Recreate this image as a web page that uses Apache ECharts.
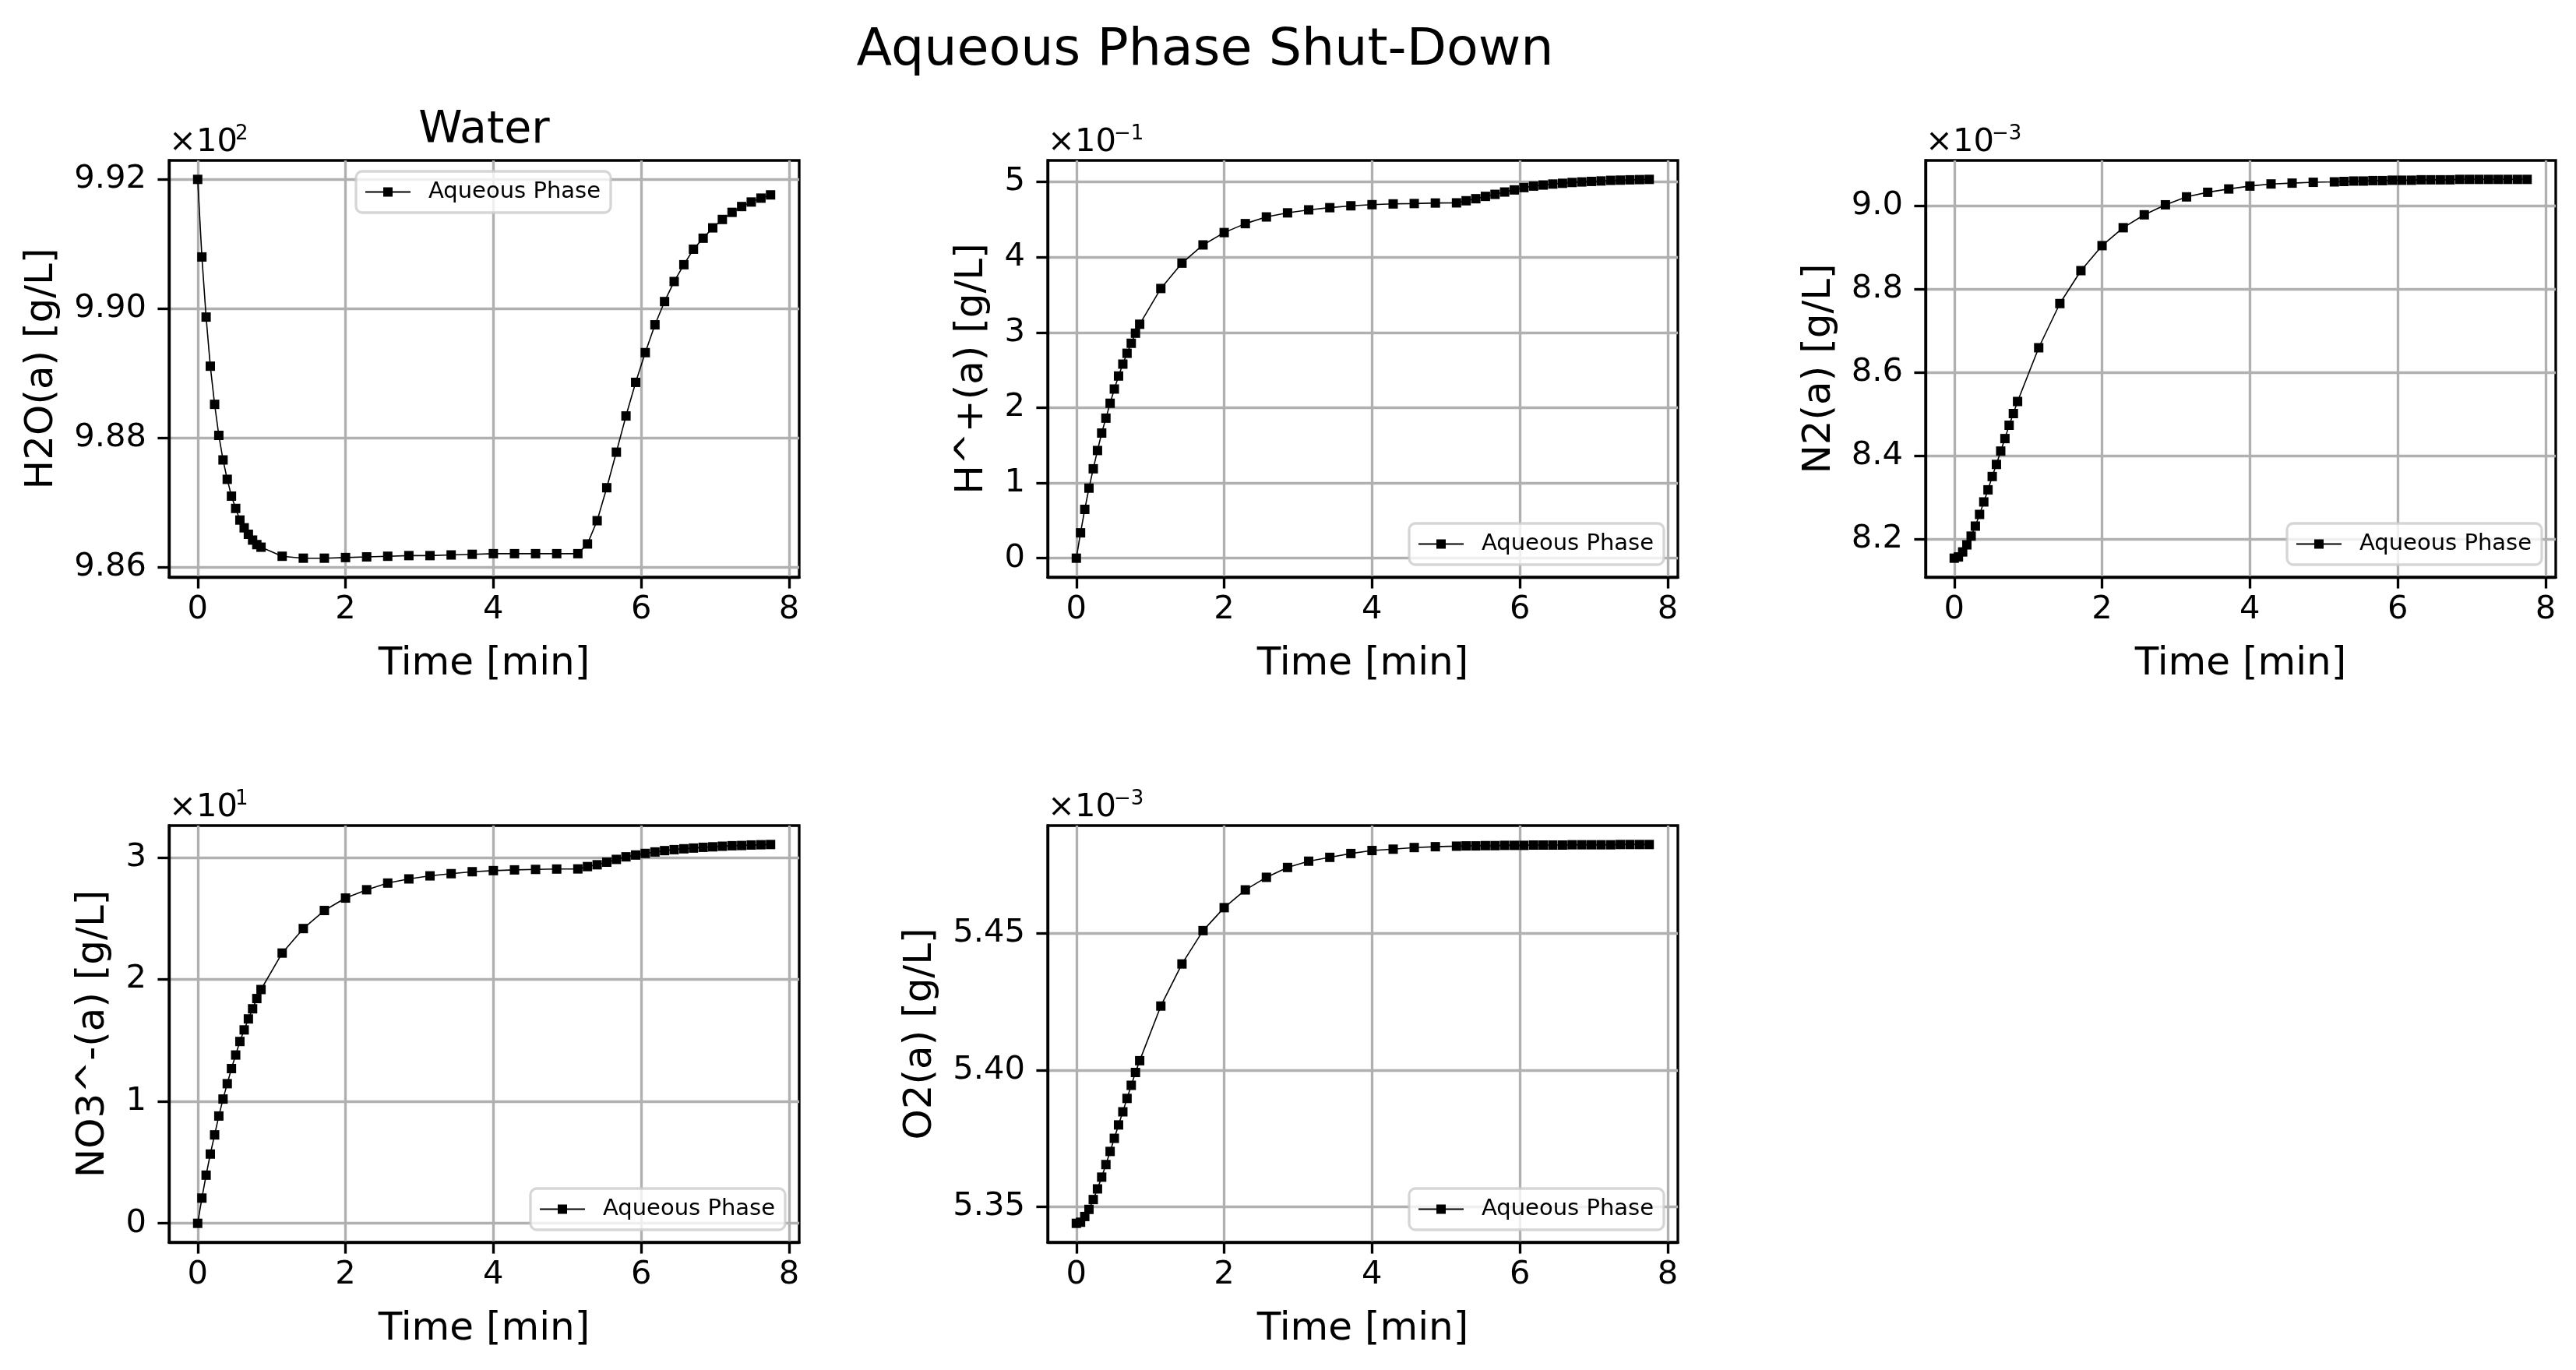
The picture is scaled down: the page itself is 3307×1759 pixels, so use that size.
<!DOCTYPE html>
<html>
<head>
<meta charset="utf-8">
<title>Aqueous Phase Shut-Down</title>
<script src="https://cdn.jsdelivr.net/npm/echarts@6/dist/echarts.min.js"></script>
<style>
  html, body { margin: 0; padding: 0; background: #fff; }
  #chart { width: 3307px; height: 1759px; }
</style>
</head>
<body>
<div id="chart"></div>
<script>
// simulation time [min], shared by all panels
const time = [
  0, 0.057, 0.114, 0.171, 0.229, 0.286, 0.343, 0.4, 0.457, 0.514, 0.571, 0.629, 0.686, 0.743, 0.8, 0.857,
  1.143, 1.429, 1.714, 2.0, 2.286, 2.571, 2.857, 3.143, 3.429, 3.714, 4.0, 4.286, 4.571, 4.857, 5.143,
  5.273, 5.404, 5.534, 5.664, 5.794, 5.925, 6.055, 6.186, 6.316, 6.446, 6.577, 6.707, 6.838, 6.968,
  7.098, 7.229, 7.359, 7.489, 7.62, 7.75
];

// concentrations, in the scaled units of each axis (see the x10^n labels)
// H2O(a), x10^2 g/L
const h2o = [
  9.9200, 9.9080, 9.8987, 9.8911, 9.8852, 9.8804, 9.8766, 9.8736, 9.8710, 9.8691, 9.8673, 9.8661, 9.8651, 9.8642, 9.8635, 9.8631,
  9.8617, 9.8614, 9.8614, 9.8615, 9.8616, 9.8617, 9.8618, 9.8618, 9.8619, 9.8620, 9.8621, 9.8621, 9.8621, 9.8621, 9.8621,
  9.8636, 9.8672, 9.8723, 9.8778, 9.8834, 9.8886, 9.8932, 9.8975, 9.9011, 9.9042, 9.9068, 9.9092, 9.9109, 9.9125,
  9.9138, 9.9149, 9.9158, 9.9165, 9.9171, 9.9176
];
// H^+(a), x10^-1 g/L
const hPlus = [
  0.000, 0.337, 0.649, 0.931, 1.188, 1.431, 1.663, 1.861, 2.059, 2.248, 2.421, 2.579, 2.723, 2.856, 2.990, 3.109,
  3.584, 3.921, 4.163, 4.327, 4.446, 4.535, 4.589, 4.629, 4.658, 4.683, 4.698, 4.708, 4.713, 4.720, 4.722,
  4.750, 4.777, 4.808, 4.835, 4.866, 4.894, 4.925, 4.945, 4.959, 4.972, 4.982, 4.993, 5.000, 5.007,
  5.013, 5.021, 5.024, 5.028, 5.031, 5.034
];
// N2(a), x10^-3 g/L
const n2 = [
  8.155, 8.158, 8.170, 8.187, 8.208, 8.232, 8.260, 8.290, 8.319, 8.351, 8.380, 8.412, 8.442, 8.474, 8.502, 8.531,
  8.660, 8.766, 8.845, 8.905, 8.948, 8.979, 9.003, 9.022, 9.033, 9.041, 9.048, 9.053, 9.055, 9.057, 9.058,
  9.059, 9.060, 9.060, 9.061, 9.061, 9.062, 9.062, 9.062, 9.063, 9.063, 9.063, 9.063, 9.064, 9.064,
  9.064, 9.064, 9.064, 9.064, 9.064, 9.064
];
// NO3^-(a), x10^1 g/L
const no3 = [
  0.000, 0.207, 0.395, 0.568, 0.725, 0.880, 1.019, 1.145, 1.269, 1.380, 1.491, 1.586, 1.676, 1.759, 1.843, 1.917,
  2.216, 2.417, 2.565, 2.667, 2.735, 2.790, 2.824, 2.849, 2.867, 2.883, 2.892, 2.898, 2.902, 2.905, 2.906,
  2.925, 2.940, 2.961, 2.984, 3.005, 3.020, 3.033, 3.045, 3.056, 3.064, 3.071, 3.077, 3.083, 3.087,
  3.092, 3.096, 3.098, 3.102, 3.104, 3.106
];
// O2(a), x10^-3 g/L
const o2 = [
  5.3439, 5.3443, 5.3464, 5.3490, 5.3526, 5.3565, 5.3608, 5.3654, 5.3702, 5.3750, 5.3799, 5.3847, 5.3896, 5.3944, 5.3991, 5.4034,
  5.4234, 5.4388, 5.4510, 5.4594, 5.4659, 5.4705, 5.4741, 5.4764, 5.4778, 5.4792, 5.4803, 5.4808, 5.4814, 5.4817, 5.4819,
  5.4820, 5.4820, 5.4821, 5.4821, 5.4822, 5.4822, 5.4822, 5.4823, 5.4823, 5.4823, 5.4823, 5.4824, 5.4824, 5.4824,
  5.4824, 5.4824, 5.4825, 5.4825, 5.4825, 5.4825
];

// tick labels
const timeTicks = [0, 2, 4, 6, 8];
const h2oTicks = [9.86, 9.88, 9.90, 9.92];
const hPlusTicks = [0, 1, 2, 3, 4, 5];
const n2Ticks = [8.2, 8.4, 8.6, 8.8, 9.0];
const no3Ticks = [0, 1, 2, 3];
const o2Ticks = [5.35, 5.40, 5.45];

const seriesName = 'Aqueous Phase';

const FONT = "'DejaVu Sans', sans-serif";
const PT = 300 / 72; // px per point
const W = 809, H = 535;

const panels = [
  { label: 'H2O(a) [g/L]',   values: h2o,   ticks: h2oTicks,   digits: 2, exp: '2',      left: 217,  top: 206,  gap: 138, legend: 'upper' },
  { label: 'H^+(a) [g/L]',   values: hPlus, ticks: hPlusTicks, digits: 0, exp: '\u22121', left: 1345, top: 206,  gap: 72 },
  { label: 'N2(a) [g/L]',    values: n2,    ticks: n2Ticks,    digits: 1, exp: '\u22123', left: 2472, top: 206,  gap: 111 },
  { label: 'NO3^-(a) [g/L]', values: no3,   ticks: no3Ticks,   digits: 0, exp: '1',      left: 217,  top: 1060, gap: 72 },
  { label: 'O2(a) [g/L]',    values: o2,    ticks: o2Ticks,    digits: 2, exp: '\u22123', left: 1345, top: 1060, gap: 138 }
];

// matplotlib-like 5% margins
function padded(arr) {
  const lo = Math.min(...arr), hi = Math.max(...arr), m = (hi - lo) * 0.05;
  return [lo - m, hi + m];
}
const tRange = padded(time);

const spine = 0.8 * PT;
const tickLen = 3.5 * PT;
const gridColor = '#b0b0b0';

const grids = [], xAxes = [], yAxes = [], series = [], legends = [], graphics = [];

panels.forEach((p, i) => {
  const yr = padded(p.values);
  grids.push({
    left: p.left, top: p.top, width: W, height: H,
    show: true, borderColor: '#000', borderWidth: spine, backgroundColor: 'transparent'
  });
  xAxes.push({
    type: 'value', gridIndex: i, min: tRange[0], max: tRange[1],
    name: 'Time [min]', nameLocation: 'middle', nameGap: 87,
    nameTextStyle: { fontFamily: FONT, fontSize: 12 * PT, color: '#000' },
    axisLine: { show: true, onZero: false, lineStyle: { color: '#000', width: spine } },
    axisTick: { show: true, length: tickLen, lineStyle: { color: '#000', width: spine }, customValues: timeTicks },
    axisLabel: { customValues: timeTicks, fontFamily: FONT, fontSize: 10 * PT, color: '#000', margin: 21,
      formatter: v => String(Math.round(v)) },
    splitLine: { show: true, lineStyle: { color: gridColor, width: spine } }
  });
  yAxes.push({
    type: 'value', gridIndex: i, min: yr[0], max: yr[1],
    name: p.label, nameLocation: 'middle', nameGap: p.gap,
    nameTextStyle: { fontFamily: FONT, fontSize: 12 * PT, color: '#000' },
    axisLine: { show: true, onZero: false, lineStyle: { color: '#000', width: spine } },
    axisTick: { show: true, length: tickLen, lineStyle: { color: '#000', width: spine }, customValues: p.ticks },
    axisLabel: { customValues: p.ticks, fontFamily: FONT, fontSize: 10 * PT, color: '#000', margin: 29,
      formatter: v => v.toFixed(p.digits) },
    splitLine: { show: true, lineStyle: { color: gridColor, width: spine } }
  });
  series.push({
    name: seriesName, type: 'line', xAxisIndex: i, yAxisIndex: i,
    data: time.map((t, j) => [t, p.values[j]]),
    symbol: 'rect', symbolSize: 12, showAllSymbol: true,
    itemStyle: { color: '#000' },
    lineStyle: { color: '#000', width: 1.6 },
    emphasis: { disabled: true },
    animation: false, z: 3
  });

  const lg = {
    data: [seriesName], selectedMode: false, orient: 'horizontal',
    itemWidth: 58, itemHeight: 15,
    padding: [12, 13, 12, 11],
    backgroundColor: 'rgba(255,255,255,0.8)',
    borderColor: 'rgba(204,204,204,0.8)', borderWidth: spine, borderRadius: 8,
    textStyle: { fontFamily: FONT, fontSize: 29, color: '#000', padding: [0, 0, 0, 18] },
    z: 10
  };
  if (p.legend === 'upper') {
    lg.left = 457; lg.top = 220;
  } else {
    lg.right = 3307 - (p.left + W - 18);
    lg.bottom = 1759 - (p.top + H - 16);
  }
  legends.push(lg);

  // scale factor text above the y axis
  graphics.push({
    type: 'text', x: p.left, y: p.top - 23, z: 20,
    style: { text: '\u00d710', font: `${10 * PT}px ${FONT}`, fill: '#000', textAlign: 'left', textVerticalAlign: 'middle' }
  });
  graphics.push({
    type: 'text', x: p.left + 85, y: p.top - 34, z: 20,
    style: { text: p.exp, font: `26px ${FONT}`, fill: '#000', textAlign: 'left', textVerticalAlign: 'middle' }
  });
});

// figure title and the first panel's title
graphics.push({
  type: 'text', x: 1547, y: 66, z: 20,
  style: { text: 'Aqueous Phase Shut-Down', font: `${16 * PT}px ${FONT}`, fill: '#000', textAlign: 'center', textVerticalAlign: 'middle' }
});
graphics.push({
  type: 'text', x: panels[0].left + W / 2, y: 168, z: 20,
  style: { text: 'Water', font: `57px ${FONT}`, fill: '#000', textAlign: 'center', textVerticalAlign: 'middle' }
});

const chart = echarts.init(document.getElementById('chart'), null, { renderer: 'canvas' });
chart.setOption({
  backgroundColor: '#fff',
  animation: false,
  grid: grids,
  xAxis: xAxes,
  yAxis: yAxes,
  legend: legends,
  series: series,
  graphic: graphics
});
</script>
</body>
</html>
